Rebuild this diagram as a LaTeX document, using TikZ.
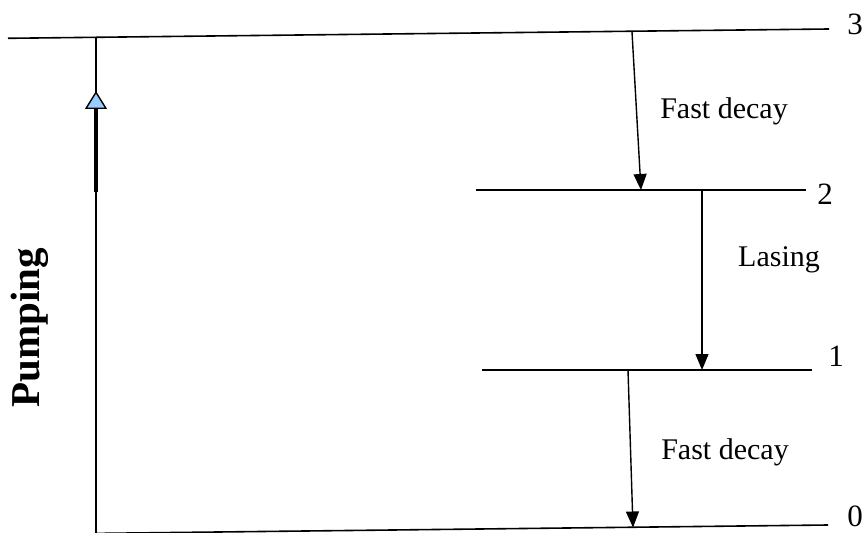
\documentclass[tikz,border=0pt]{standalone}
\usepackage{fontspec}
\setmainfont{Liberation Serif}
\usetikzlibrary{arrows.meta}
\definecolor{pumpblue}{RGB}{153,204,255}
\begin{document}
\begin{tikzpicture}[x=1bp,y=-1bp,
  level/.style={line width=1.6bp},
  decay/.style={line width=1.4bp,-{Triangle[length=16bp,width=13bp]}},
  lbl/.style={font=\fontsize{30bp}{36bp}\selectfont, inner sep=0pt},
  num/.style={font=\fontsize{31bp}{36bp}\selectfont, inner sep=0pt}]
\useasboundingbox (0,0) rectangle (864,533);
\clip (0,0) rectangle (864,533);
% level end points
\coordinate (l3L) at (8,38.3);   \coordinate (l3R) at (829,29);
\coordinate (l2L) at (476,190);  \coordinate (l2R) at (806,190);
\coordinate (l1L) at (482,370);  \coordinate (l1R) at (812,370);
\coordinate (l0L) at (96,533.4); \coordinate (l0R) at (828,525);
% transition points
\coordinate (d1s) at (632,32);   \coordinate (d1e) at (641,190);
\coordinate (las) at (702,190);  \coordinate (lae) at (702,370);
\coordinate (d2s) at (628,370);  \coordinate (d2e) at (633,527.5);
\coordinate (pB) at (96,540);    \coordinate (pT) at (96,37.3);
\coordinate (pS) at (96,192);    \coordinate (pH) at (96,91);
% levels
\draw[level] (l3L) -- (l3R);
\draw[level] (l2L) -- (l2R);
\draw[level] (l1L) -- (l1R);
\draw[level] (l0L) -- (l0R);
% pumping
\draw[line width=1.4bp] (pB) -- (pT);
\draw[line width=3.6bp,-{Triangle[length=18bp,width=22bp,fill=pumpblue,line width=1.4bp]}] (pS) -- (pH);
% decays
\draw[decay] (d1s) -- (d1e);
\draw[decay] (las) -- (lae);
\draw[decay] (d2s) -- (d2e);
% labels
\node[num] (n3) at (855,24) {3};
\node[num] (n2) at (825,194) {2};
\node[num] (n1) at (836,356) {1};
\node[num] (n0) at (855,516) {0};
\node[lbl] (t1) at (724,111) {Fast decay};
\node[lbl] (t2) at (779,260) {Lasing};
\node[lbl] (t3) at (725,452) {Fast decay};
\node[rotate=90, inner sep=0pt, font=\bfseries\fontsize{41bp}{48bp}\selectfont] (pump) at (29.5,328) {Pumping};
\end{tikzpicture}
\end{document}
